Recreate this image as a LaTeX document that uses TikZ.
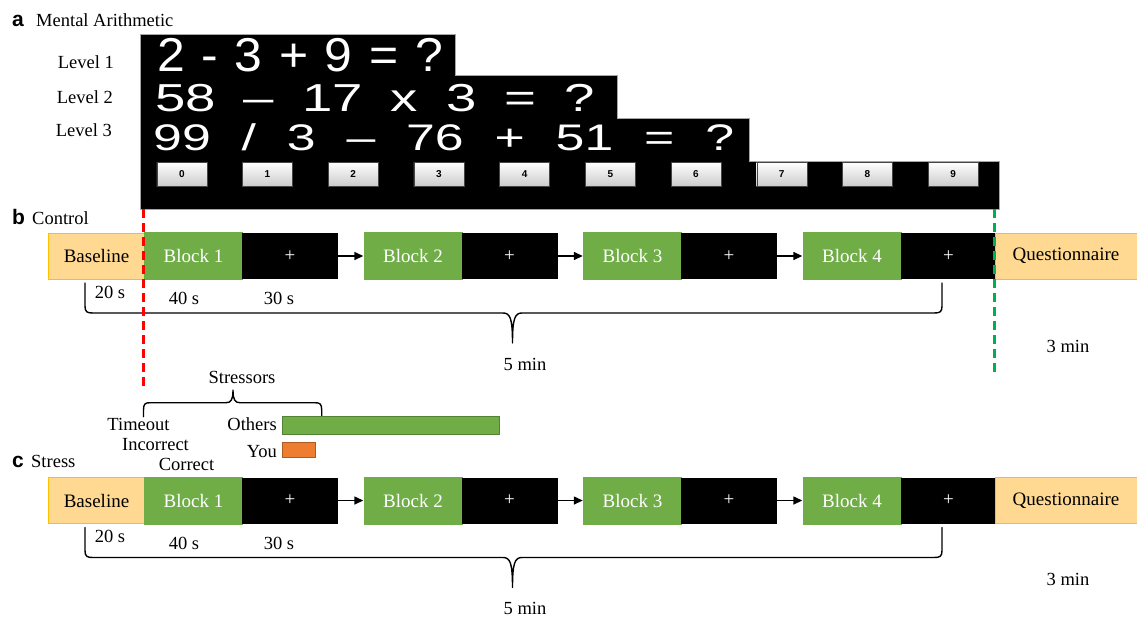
\documentclass[tikz,border=0pt]{standalone}
\usepackage{fontspec}
\setmainfont{Liberation Serif}
\setsansfont{Liberation Sans}
\usetikzlibrary{arrows.meta}

\definecolor{blockgreen}{RGB}{112,173,71}
\definecolor{blockedge}{RGB}{84,130,53}
\definecolor{basefill}{RGB}{255,217,145}
\definecolor{baseedge}{RGB}{255,192,0}
\definecolor{youorange}{RGB}{237,125,49}
\definecolor{youedge}{RGB}{174,90,33}
\definecolor{markgreen}{RGB}{0,176,80}

\tikzset{
  lbl/.style={inner sep=0pt, font=\fontsize{18.5}{20}\selectfont},
  tag/.style={inner sep=0pt, font=\fontsize{21}{22}\selectfont\sffamily\bfseries},
  eqline/.style={anchor=base west, inner sep=0pt, text=white},
  basebox/.style={draw=baseedge, fill=basefill, line width=1pt, minimum width=97, minimum height=46, inner sep=0pt, font=\fontsize{19}{20}\selectfont},
  blockbox/.style={fill=blockgreen, text=white, minimum width=99, minimum height=48, inner sep=0pt, font=\fontsize{19}{20}\selectfont},
  fixbox/.style={fill=black, text=white, minimum width=96, minimum height=46, inner sep=0pt, font=\fontsize{19}{20}\selectfont},
  keybtn/.style={draw=gray!55!black, top color=white, bottom color=gray!40, minimum width=50, minimum height=24, inner sep=0pt, font=\fontsize{10}{10}\selectfont\sffamily\bfseries},
  flow/.style={-{Triangle[length=9pt,width=8pt]}, line width=1.4pt},
  brace/.style={line width=1.4pt, line cap=round, line join=round},
  cutline/.style={line width=3pt, dash pattern=on 9pt off 5pt}
}

\begin{document}
\begin{tikzpicture}[x=1pt,y=-1pt]
  \useasboundingbox (0,0) rectangle (1137,619);

  % a: mental arithmetic screen
  \node[tag, anchor=base west] (tag-a) at (12,26) {a};
  \node[lbl, anchor=base west] (title-a) at (36,26) {Mental Arithmetic};
  \node[lbl, anchor=base east] (lev1) at (114,68.3) {Level 1};
  \node[lbl, anchor=base east] (lev2) at (113,103.3) {Level 2};
  \node[lbl, anchor=base east] (lev3) at (112,136.7) {Level 3};
  \filldraw[fill=black, draw=gray!70] (140,34) -- (455,34) -- (455,75) -- (617,75) -- (617,118)
    -- (749,118) -- (749,161) -- (999,161) -- (999,209) -- (140,209) -- cycle;
  \node[eqline] (eq1) at (157,71.7)
    {\scalebox{1.05}[1]{\makebox[272pt][s]{\fontsize{47.5}{48}\sffamily 2 - 3 + 9 = ?}}};
  \node[eqline] (eq2) at (155,111.7)
    {\scalebox{1.4}[1]{\makebox[314pt][s]{\fontsize{39}{40}\sffamily 58 – 17 x 3 = ?}}};
  \node[eqline] (eq3) at (153,150)
    {\scalebox{1.4}[1]{\makebox[415pt][s]{\fontsize{37}{38}\sffamily 99 / 3 – 76 + 51 = ?}}};
  \foreach \k in {0,...,9}
    \node[keybtn] (key\k) at (181.8+85.7*\k,174) {\k};

  % b and c: timelines
  \node[tag, anchor=base west] (tag-b) at (12,224) {b};
  \node[lbl, anchor=base west] (title-b) at (32,224) {Control};
  \node[tag, anchor=base west] (tag-c) at (12,467) {c};
  \node[lbl, anchor=base west] (title-c) at (31,467) {Stress};
  \foreach \row/\yy in {b/256,c/500.5}{
    \node[basebox] (\row-base) at (96.5,\yy) {Baseline};
    \foreach \i/\xx in {1/193.5,2/413,3/632.5,4/852}{
      \node[blockbox] (\row-blk\i) at (\xx,\yy) {Block \i};
      \node[fixbox] (\row-fix\i) at (\xx+96.5,\yy) {+};
    }
    \node[basebox, minimum width=142] (\row-quest) at (1066,\yy) {Questionnaire};
    \foreach \i/\j in {1/2,2/3,3/4}
      \draw[flow] (\row-fix\i) -- (\row-blk\j);
    \node[lbl] (\row-t20) at (110,\yy+36) {20 s};
    \node[lbl] (\row-t40) at (184,\yy+42.5) {40 s};
    \node[lbl] (\row-t30) at (279,\yy+42.5) {30 s};
    \node[lbl] (\row-t5) at (525,\yy+108) {5 min};
    \draw[brace] (85,\yy+27) -- (85,\yy+50) .. controls (85,\yy+56) and (87,\yy+57) .. (93,\yy+57)
      -- (503,\yy+57) .. controls (510,\yy+57) and (512.5,\yy+62) .. (512.5,\yy+87)
      .. controls (512.5,\yy+62) and (515,\yy+57) .. (522,\yy+57)
      -- (934,\yy+57) .. controls (940,\yy+57) and (942,\yy+56) .. (942,\yy+50) -- (942,\yy+27);
  }
  \node[lbl] (b-t3) at (1068,346) {3 min};
  \node[lbl] (c-t3) at (1068,579) {3 min};

  % task window markers
  \coordinate (redtop) at (143,209);
  \coordinate (redbot) at (143,388);
  \coordinate (greentop) at (994,209);
  \coordinate (greenbot) at (994,375);
  \draw[cutline, red] (redtop) -- (redbot);
  \draw[cutline, markgreen] (greentop) -- (greenbot);

  % stressors
  \node[lbl, anchor=base] (stressors) at (242,383) {Stressors};
  \draw[brace] (143.5,416.7) -- (143.5,410) .. controls (143.5,404) and (145,402.7) .. (150,402.7)
    -- (226,402.7) .. controls (231,402.7) and (233,400) .. (233,390)
    .. controls (233,400) and (235,402.7) .. (240,402.7)
    -- (315,402.7) .. controls (320,402.7) and (321.7,404) .. (321.7,410) -- (321.7,416.7);
  \node[lbl, anchor=base] (timeout) at (138.5,430) {Timeout};
  \node[lbl, anchor=base] (incorrect) at (155.5,450) {Incorrect};
  \node[lbl, anchor=base] (correct) at (186.5,470) {Correct};
  \node[lbl, anchor=base east] (others) at (277,430.5) {Others};
  \node[lbl, anchor=base east] (you) at (277,457) {You};
  \filldraw[fill=blockgreen, draw=blockedge] (282,416) rectangle (499,434);
  \filldraw[fill=youorange, draw=youedge] (282,441.7) rectangle (315,457);
\end{tikzpicture}
\end{document}
